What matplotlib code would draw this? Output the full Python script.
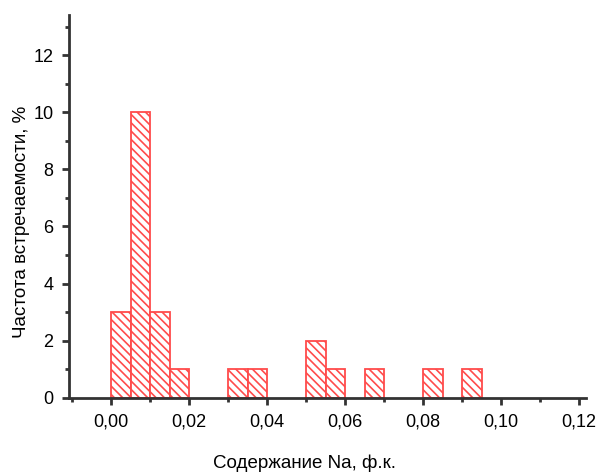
import numpy as np
import matplotlib
matplotlib.use("Agg")
import matplotlib.pyplot as plt
from matplotlib.ticker import MultipleLocator

plt.rcParams['font.family'] = ['Liberation Sans', 'DejaVu Sans']
plt.rcParams['hatch.color'] = '#ff4b4b'
plt.rcParams['hatch.linewidth'] = 1.2

# bin left edges (Na, f.u.) and frequencies (%)
bin_left = [0.000, 0.005, 0.010, 0.015, 0.030, 0.035, 0.050, 0.055, 0.065, 0.080, 0.090]
freq = [3, 10, 3, 1, 1, 1, 2, 1, 1, 1, 1]
bin_width = 0.005

x_ticks = [0.00, 0.02, 0.04, 0.06, 0.08, 0.10, 0.12]
x_tick_labels = ['0,00', '0,02', '0,04', '0,06', '0,08', '0,10', '0,12']
y_ticks = [0, 2, 4, 6, 8, 10, 12]

fig = plt.figure(figsize=(5.98, 4.72), dpi=100)
ax = fig.add_axes([0.115, 0.157, 0.865, 0.811])

ax.bar(bin_left, freq, width=bin_width, align='edge', color='white',
       edgecolor='#ff4b4b', linewidth=1.3, hatch='\\\\\\\\', zorder=2)

ax.set_xlim(-0.0109, 0.1218)
ax.set_ylim(0, 13.4)
ax.set_xticks(x_ticks)
ax.set_xticklabels(x_tick_labels)
ax.set_yticks(y_ticks)
ax.xaxis.set_minor_locator(MultipleLocator(0.01))
ax.yaxis.set_minor_locator(MultipleLocator(1))

for s in ['top', 'right']:
    ax.spines[s].set_visible(False)
for s in ['left', 'bottom']:
    ax.spines[s].set_color('#333333')
    ax.spines[s].set_linewidth(2)
    ax.spines[s].set_zorder(3)

ax.tick_params(which='major', direction='out', length=5, width=2, color='#333333',
               labelsize=13, pad=6)
ax.tick_params(which='minor', direction='out', length=3, width=2, color='#333333')

ax.set_xlabel('Содержание Na, ф.к.', fontsize=13.5, va='center')
ax.set_ylabel('Частота встречаемости, %', fontsize=13.5, va='center')
ax.xaxis.set_label_coords(0.456, -0.17)
ax.yaxis.set_label_coords(-0.092, 0.46)

fig.savefig('out.png', dpi=100)
